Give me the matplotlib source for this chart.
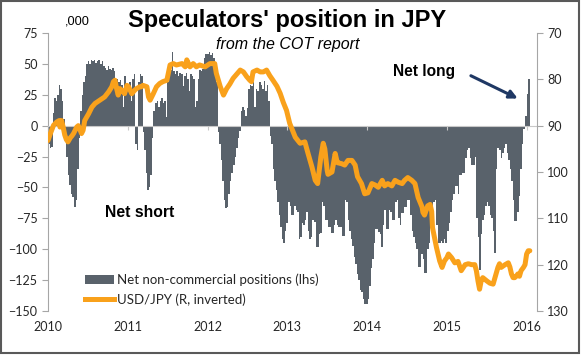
import numpy as np
import matplotlib.pyplot as plt
from matplotlib.patches import Patch, Rectangle
from matplotlib.lines import Line2D

# Net non-commercial positions ('000 contracts), weekly, one list per year
pos_2010 = [-15, -18, -17, 10, 22, 20, 25, 33, 30, 20, 5, -10, -25, -40, -48, -55, -58, -66, -60, -35,
            -10, 12, 25, 35, 40, 50, 52, 50, 53, 52, 53, 51, 52, 53, 50, 52, 48, 47, 45, 48,
            46, 45, 47, 44, 30, 38, 35, 37, 33, 15, 40, 32]
pos_2011 = [30, 35, 20, 38, 42, -15, -20, 35, 42, 40, -5, -20, -38, -52, -50, -40, -10, 12, 18, 20,
            15, 20, 22, 18, 20, 7, 35, 42, 45, 60, 44, 42, 44, 40, 43, 42, 32, 40, 43, 38,
            28, 42, 40, 38, 15, 20, 38, 45, 44, 46, 55, 58]
pos_2012 = [58, 60, 57, 59, 55, 45, 35, -5, -15, -28, -45, -60, -67, -66, -55, -45, -38, -32, -25, -18,
            -10, -4, 12, 15, 13, 8, 14, 30, 33, 32, 35, 15, 30, 28, 35, 33, 30, 36, 28, 33,
            20, -8, -15, -35, -45, -52, -62, -72, -82, -92, -95, -85]
pos_2013 = [-79, -62, -65, -72, -72, -65, -68, -70, -92, -90, -79, -80, -76, -70, -85, -92, -90, -76, -78, -98,
            -98, -88, -87, -62, -65, -76, -76, -82, -82, -87, -87, -80, -76, -80, -82, -82, -89, -89, -60, -62,
            -76, -85, -92, -97, -106, -112, -120, -125, -133, -135, -140, -144]
pos_2014 = [-144, -140, -130, -115, -108, -95, -84, -84, -86, -88, -98, -80, -68, -84, -84, -68, -70, -76, -76, -62,
            -60, -75, -80, -71, -71, -66, -66, -60, -60, -72, -85, -90, -95, -100, -114, -114, -104, -108, -119, -119,
            -100, -95, -80, -65, -62, -60, -80, -95, -95, -93, -95, -92]
pos_2015 = [-95, -85, -79, -70, -60, -55, -49, -49, -55, -40, -40, -38, -38, -26, -20, -18, -26, -32, -32, -25,
            -75, -90, -117, -88, -76, -72, -65, -62, -65, -72, -75, -85, -103, -35, -18, -20, -26, -22, -18, -15,
            -22, -28, -35, -45, -60, -77, -77, -70, -57, -35, -15, -3]
pos_2016 = [8, 26, 38]

# USD/JPY (decimal year, rate)
fx_t = [2010.00, 2010.03, 2010.07, 2010.11, 2010.14, 2010.15, 2010.17, 2010.19, 2010.21, 2010.23,
        2010.25, 2010.28, 2010.30, 2010.32, 2010.36, 2010.38, 2010.42, 2010.44, 2010.46, 2010.51,
        2010.55, 2010.59, 2010.65, 2010.71, 2010.76, 2010.80, 2010.82, 2010.84, 2010.86, 2010.88,
        2010.90, 2010.92, 2010.96, 2010.99, 2011.01, 2011.05, 2011.09, 2011.11, 2011.15, 2011.17,
        2011.19, 2011.24, 2011.26, 2011.28, 2011.32, 2011.36, 2011.40, 2011.44, 2011.49, 2011.53,
        2011.57, 2011.61, 2011.68, 2011.72, 2011.74, 2011.78, 2011.82, 2011.86, 2011.90, 2011.97,
        2012.03, 2012.07, 2012.09, 2012.11, 2012.16, 2012.20, 2012.24, 2012.28, 2012.32, 2012.36,
        2012.41, 2012.45, 2012.49, 2012.53, 2012.55, 2012.57, 2012.62, 2012.66, 2012.70, 2012.74,
        2012.78, 2012.82, 2012.87, 2012.91, 2012.95, 2012.99, 2013.03, 2013.10, 2013.16, 2013.22,
        2013.26, 2013.31, 2013.35, 2013.38, 2013.42, 2013.45, 2013.47, 2013.50, 2013.51, 2013.56,
        2013.60, 2013.62, 2013.63, 2013.68, 2013.72, 2013.76, 2013.81, 2013.85, 2013.88, 2013.93,
        2013.97, 2014.01, 2014.06, 2014.10, 2014.14, 2014.19, 2014.22, 2014.26, 2014.31, 2014.35,
        2014.39, 2014.44, 2014.47, 2014.51, 2014.56, 2014.60, 2014.64, 2014.69, 2014.70, 2014.72,
        2014.76, 2014.79, 2014.81, 2014.82, 2014.87, 2014.91, 2014.94, 2014.97, 2015.00, 2015.02,
        2015.06, 2015.10, 2015.14, 2015.18, 2015.23, 2015.27, 2015.31, 2015.35, 2015.37, 2015.39,
        2015.41, 2015.43, 2015.45, 2015.50, 2015.54, 2015.58, 2015.60, 2015.64, 2015.66, 2015.68,
        2015.73, 2015.77, 2015.79, 2015.81, 2015.83, 2015.85, 2015.87, 2015.89, 2015.91, 2015.93,
        2015.96, 2015.98, 2016.00, 2016.02, 2016.04]
fx_v = [93.2, 91.7, 89.9, 89.2, 88.9, 90.3, 88.9, 90.3, 92.0, 93.0,
        93.5, 92.6, 92.2, 91.7, 90.3, 90.0, 91.7, 91.0, 88.9, 87.4,
        86.0, 85.2, 84.5, 83.8, 82.7, 81.6, 80.5, 80.2, 82.0, 83.4,
        82.0, 82.3, 83.1, 81.3, 81.6, 83.1, 82.3, 82.0, 81.6, 81.6,
        81.3, 81.6, 83.8, 84.5, 83.1, 81.6, 80.9, 80.5, 80.2, 76.9,
        76.6, 76.9, 76.6, 77.3, 75.8, 77.3, 76.6, 77.3, 76.9, 77.3,
        76.6, 76.6, 76.6, 78.7, 81.6, 83.4, 82.0, 81.0, 79.8, 79.0,
        78.0, 78.4, 79.4, 80.2, 80.5, 78.4, 78.0, 78.4, 78.4, 78.0,
        79.2, 80.2, 81.5, 83.0, 85.0, 86.7, 89.5, 92.5, 93.8, 93.5,
        96.0, 99.0, 101.8, 102.5, 96.8, 93.8, 95.0, 99.7, 100.5, 100.0,
        96.0, 97.5, 98.0, 98.2, 98.5, 97.5, 97.5, 98.5, 101.0, 102.5,
        104.7, 104.5, 102.5, 102.8, 103.3, 101.8, 103.0, 102.5, 103.0, 101.8,
        102.2, 102.5, 101.8, 101.2, 101.8, 102.5, 105.5, 107.6, 108.7, 109.3,
        107.3, 107.0, 108.5, 112.0, 116.3, 119.2, 120.6, 119.2, 118.5, 117.7,
        118.5, 119.6, 119.3, 121.3, 120.0, 119.8, 120.0, 120.0, 121.3, 123.5,
        125.3, 123.5, 122.8, 123.5, 124.0, 124.2, 123.0, 120.6, 119.8, 120.6,
        120.0, 119.6, 120.5, 122.0, 122.8, 122.8, 122.5, 122.0, 122.5, 121.3,
        120.6, 120.0, 117.7, 117.0, 117.0]

years = [2010, 2011, 2012, 2013, 2014, 2015, 2016]
year_labels = ['2010', '2011', '2012', '2013', '2014', '2015', '2016']
lhs_ticks = [-150, -125, -100, -75, -50, -25, 0, 25, 50, 75]
rhs_ticks = [70, 80, 90, 100, 110, 120, 130]

bar_color = '#59626B'
fx_color = '#F9A11B'
axis_grey = '#A6A6A6'
text_col = '#262626'

positions = pos_2010 + pos_2011 + pos_2012 + pos_2013 + pos_2014 + pos_2015 + pos_2016
week = 7 / 365.25
edges = 2010 + np.arange(len(positions) + 1) * week

fig = plt.figure(figsize=(5.83, 3.57), dpi=100)
ax = fig.add_axes([48/583, 1 - 311/357, (537 - 48)/583, (311 - 33)/357])

# weekly bars are contiguous, so draw them as one filled step shape (no seams)
ax.stairs(positions, edges, baseline=0, fill=True, color=bar_color, zorder=1)
ax.set_xlim(2010, 2016.13)
ax.set_ylim(-150, 75)
ax.set_yticks(lhs_ticks)
ax.tick_params(axis='y', direction='out', length=4, color=axis_grey,
               labelsize=9, labelcolor=text_col)
for lbl in ax.get_yticklabels():
    lbl.set_fontfamily('Lato')

# zero line acts as the category axis
ax.spines['top'].set_visible(False)
ax.spines['right'].set_visible(False)
ax.spines['left'].set_color(axis_grey)
ax.spines['bottom'].set_position(('data', 0))
ax.spines['bottom'].set_color('#C8C8C8')
ax.spines['bottom'].set_linestyle((0, (2, 1)))
ax.set_xticks(years)
ax.tick_params(axis='x', direction='out', length=3, color='#C8C8C8', labelbottom=False)

sec = ax.secondary_xaxis(0)
sec.set_xticks(years, year_labels, fontfamily='Lato', fontsize=9, color=text_col)
sec.tick_params(length=0, pad=7)
sec.spines['bottom'].set_visible(False)

ax2 = ax.twinx()
ax2.plot(fx_t, fx_v, color=fx_color, lw=3.6, solid_capstyle='round', solid_joinstyle='round')
ax2.set_ylim(130, 70)
ax2.set_yticks(rhs_ticks)
ax2.tick_params(axis='y', direction='out', length=4, color=axis_grey,
                labelsize=9, labelcolor=text_col)
for lbl in ax2.get_yticklabels():
    lbl.set_fontfamily('Lato')
for side in ['top', 'left', 'bottom']:
    ax2.spines[side].set_visible(False)
ax2.spines['right'].set_color(axis_grey)

handles = [Patch(facecolor=bar_color, edgecolor='none'),
           Line2D([0], [0], color=fx_color, lw=3.6)]
labels = ['Net non-commercial positions (lhs)', 'USD/JPY (R, inverted)']
fig.legend(handles, labels, loc='upper left', bbox_to_anchor=(78/583, 1 - 267/357),
           frameon=False, borderpad=0, handlelength=2.2, handletextpad=0.25,
           labelspacing=0.55, prop={'family': 'Lato', 'size': 9.5}, labelcolor=text_col)

ax.text(2014.71, 43.8, 'Net long', ha='center', va='center', fontsize=11.2,
        fontweight='bold', family='Liberation Sans', color='black')
ax.text(2011.15, -70.6, 'Net short', ha='center', va='center', fontsize=11.3,
        fontweight='bold', family='Liberation Sans', color='black')
ax.annotate('', xy=(2015.92, 21), xytext=(2015.27, 41.4),
            arrowprops=dict(arrowstyle='-|>', color='#1F3864', lw=2.2, mutation_scale=12))

fig.text(287/583, 1 - 20/357, "Speculators' position in JPY", ha='center', va='center',
         fontsize=17, fontweight='bold', family='Liberation Sans')
fig.text(288/583, 1 - 44/357, 'from the COT report', ha='center', va='center',
         fontsize=11.5, style='italic', family='Liberation Sans')
fig.text(77/583, 1 - 21/357, ',000', ha='center', va='center', fontsize=9.2,
         family='Liberation Sans')

fig.patches.append(Rectangle((1/583, 4/357), 578/583, 352/357, transform=fig.transFigure,
                             fill=False, edgecolor='#595959', lw=1.5))

fig.savefig('out.png', dpi=100)
